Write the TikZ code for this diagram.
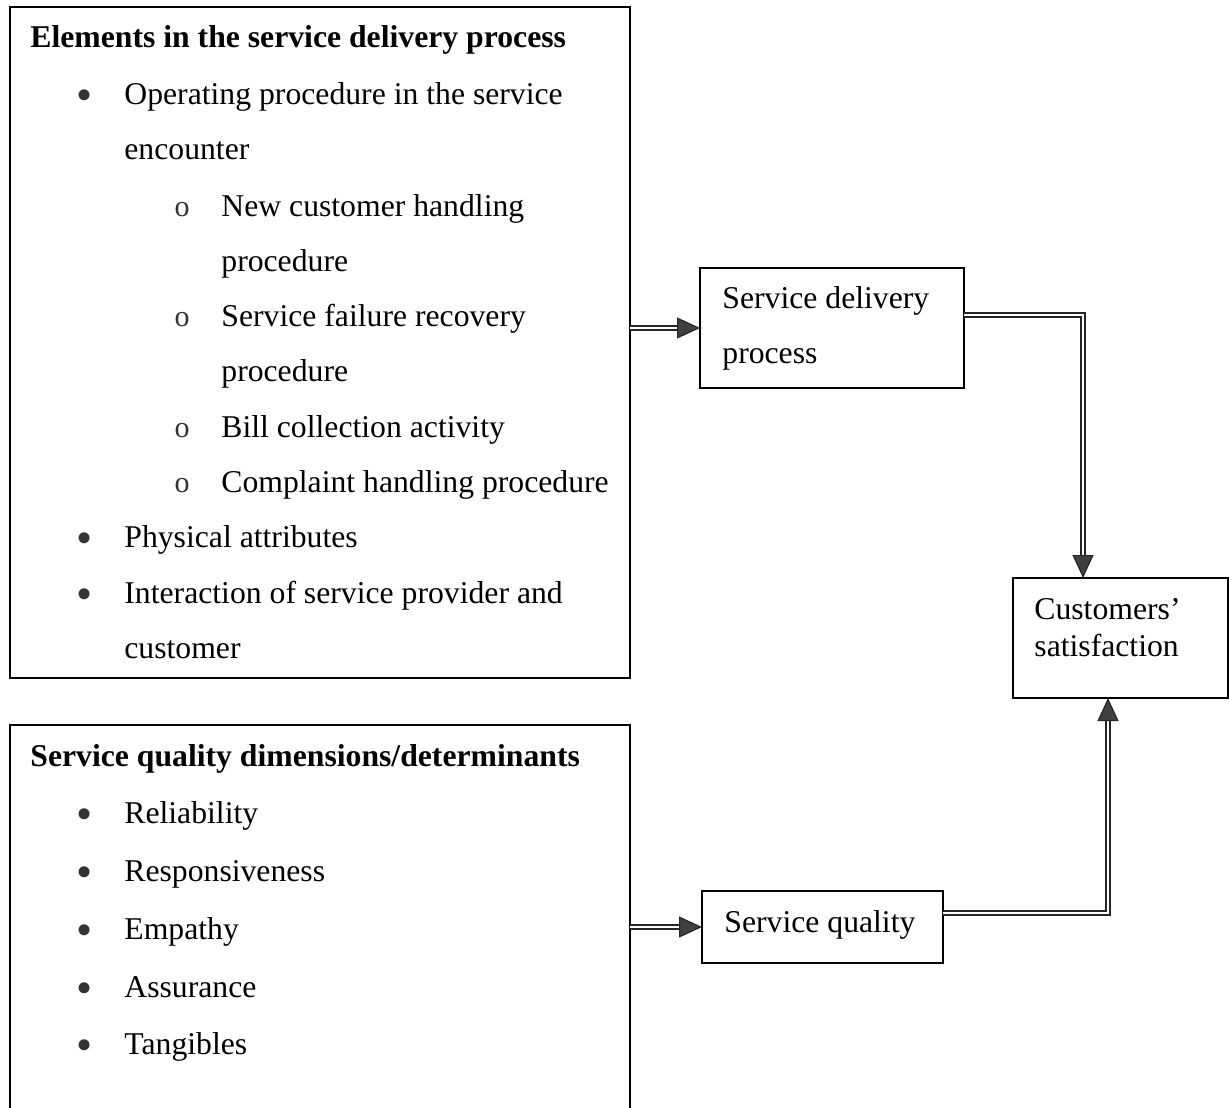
\documentclass[tikz,border=0pt]{standalone}
\usepackage{fontspec}
\setmainfont{Liberation Serif}
\usetikzlibrary{arrows.meta,positioning}

\tikzset{
  txt/.style={anchor=base west, inner sep=0pt, font=\fontsize{15.85}{27.8}\selectfont},
  boldtxt/.style={txt, font=\fontsize{15.85}{27.8}\selectfont\bfseries},
  dot/.style={anchor=base, inner sep=0pt, yshift=-3pt, text=black!80, font=\fontsize{23}{23}\selectfont},
  subdot/.style={anchor=base, inner sep=0pt, text=black!80, font=\fontsize{15}{16}\selectfont},
  box/.style={draw, line width=0.7pt, anchor=north west, inner sep=0pt, outer sep=0pt},
  dbl/.style={double, double distance=1.4pt, line width=0.6pt, draw=black!85,
    -{Triangle[length=11.5pt,width=10.5pt,fill=black!75]}}
}

\begin{document}
\begin{tikzpicture}[x=0.5pt,y=-0.5pt]
       \useasboundingbox (0,0) rectangle (1229,1107);
       \clip (0,0) rectangle (1229,1107);

       % boxes
       \node[box, minimum width=310pt, minimum height=335.5pt] (elem) at (10,7) {};
       \node[box, minimum width=310pt, minimum height=220pt] (dims) at (10,725) {};
       \node[box, minimum width=132pt, minimum height=60pt] (sdp) at (700,268) {};
       \node[box, minimum width=120.5pt, minimum height=36pt] (sq) at (702,891) {};
       \node[box, minimum width=107.5pt, minimum height=60pt] (cust) at (1013,578) {};

       % elements in the service delivery process
       \node[boldtxt] (elemtitle) at (30,48) {Elements in the service delivery process};
       \node[dot] (b1) at (85,105) {•};
       \node[txt] (e1) at (124,105) {Operating procedure in the service};
       \node[txt] (e1b) at (124,160) {encounter};
       \node[subdot] (s1) at (182,216) {o};
       \node[txt] (e2) at (221,216) {New customer handling};
       \node[txt] (e2b) at (221,271) {procedure};
       \node[subdot] (s2) at (182,326) {o};
       \node[txt] (e3) at (221,326) {Service failure recovery};
       \node[txt] (e3b) at (221,381) {procedure};
       \node[subdot] (s3) at (182,437) {o};
       \node[txt] (e4) at (221,437) {Bill collection activity};
       \node[subdot] (s4) at (182,492) {o};
       \node[txt] (e5) at (221,492) {Complaint handling procedure};
       \node[dot] (b2) at (85,547) {•};
       \node[txt] (e6) at (124,547) {Physical attributes};
       \node[dot] (b3) at (85,603) {•};
       \node[txt] (e7) at (124,603) {Interaction of service provider and};
       \node[txt] (e7b) at (124,658) {customer};

       % service quality dimensions
       \node[boldtxt] (dimstitle) at (30,766) {Service quality dimensions/determinants};
       \node[dot] (b4) at (85,823) {•};
       \node[txt] (d1) at (124,823) {Reliability};
       \node[dot] (b5) at (85,881) {•};
       \node[txt] (d2) at (124,881) {Responsiveness};
       \node[dot] (b6) at (85,939) {•};
       \node[txt] (d3) at (124,939) {Empathy};
       \node[dot] (b7) at (85,997) {•};
       \node[txt] (d4) at (124,997) {Assurance};
       \node[dot] (b8) at (85,1054) {•};
       \node[txt] (d5) at (124,1054) {Tangibles};

       % small boxes
       \node[txt] (sdptxt) at (722,308) {Service delivery};
       \node[txt] (sdptxtb) at (722,363) {process};
       \node[txt] (sqtxt) at (724,932) {Service quality};
       \node[txt] (custtxt) at (1034,619) {Customers’};
       \node[txt] (custtxtb) at (1034,656) {satisfaction};

       % arrows
       \draw[dbl] (elem.east |- sdp.west) -- (sdp.west);
       \draw[dbl] (dims.east |- sq.west) -- (sq.west);
       \draw[dbl] ([yshift=6.5pt]sdp.east) -| ([xshift=-18.75pt]cust.north);
       \draw[dbl] ([yshift=7pt]sq.east) -| ([xshift=-6.25pt]cust.south);
\end{tikzpicture}
\end{document}
